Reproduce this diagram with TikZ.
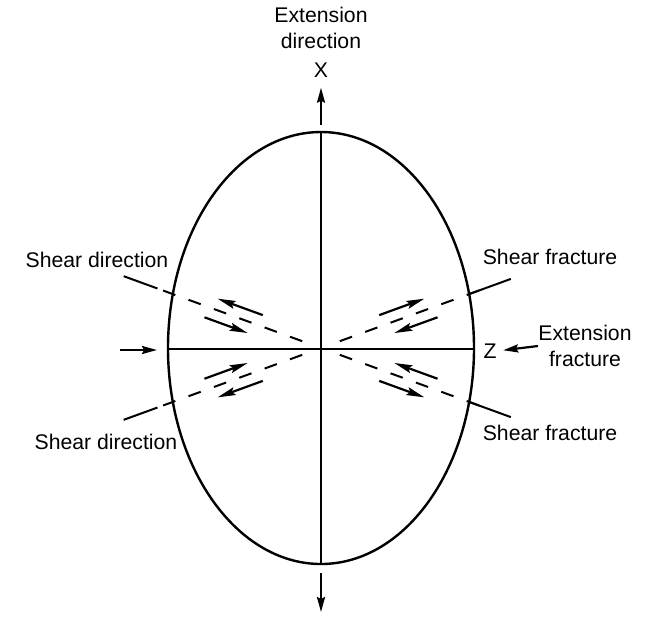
\documentclass[tikz,border=0pt]{standalone}
\usepackage{fontspec}
\setmainfont{Liberation Sans}
\usetikzlibrary{calc,arrows.meta}

\begin{document}
\begin{tikzpicture}[
    x=0.5pt,y=-0.5pt,
    outline/.style={draw,line width=1.2pt},
    axis/.style={draw,line width=1.1pt},
    fault/.style={draw,line width=1pt,dash pattern=on 6.5pt off 7pt},
    ray/.style={draw,line width=1pt},
    flow/.style={-{Stealth[length=7.5pt,width=4pt,inset=1pt]},line width=1.1pt},
    slip/.style={-{Stealth[length=9pt,width=4pt,inset=1.5pt]},line width=1.1pt},
    lbl/.style={font=\fontsize{10.6}{12.8}\selectfont,align=center,inner sep=0pt}
]
    \useasboundingbox (0,0) rectangle (648,618);
    \coordinate (O) at (321,348);
    \coordinate (top) at (321,132);
    \coordinate (bot) at (321,564);
    \coordinate (lft) at (168,349);
    \coordinate (rgt) at (474,349);

    % strain ellipse and principal axes
    \draw[outline] (O) ellipse [x radius=153, y radius=216];
    \draw[axis] (top) -- (bot);
    \draw[axis] (lft) -- (rgt);

    % labels
    \node[lbl] (extdir) at (321,28) {Extension\\direction};
    \node[lbl] (xlab) at (321,70) {X};
    \node[lbl] (zlab) at (490,351) {Z};
    \node[lbl] (extfrac) at (585,346) {Extension\\fracture};
    \node[lbl] (sdU) at (97,260) {Shear direction};
    \node[lbl] (sdL) at (106,442) {Shear direction};
    \node[lbl] (sfU) at (550,257) {Shear fracture};
    \node[lbl] (sfL) at (550,433) {Shear fracture};

    % extension and compression arrows
    \coordinate (xfoot) at (321,125);
    \coordinate (dnA) at (321,573);
    \coordinate (dnB) at (321,612);
    \coordinate (inA) at (120,350);
    \coordinate (inB) at (157,350);
    \draw[flow,shorten >=5pt] (xfoot) -- (xlab.south);
    \draw[flow] (dnA) -- (dnB);
    \draw[flow] (inA) -- (inB);
    \draw[flow,shorten >=3.2pt] (extfrac.west) -- (zlab.east);

    % conjugate shear planes with sense of slip
    \foreach \a/\f/\n/\s/\e in {200/290/110/174/210, 160/70/250/174/210,
                                340/250/70/158/202, 20/110/290/158/202}{
        \draw[fault] ($(O)+(\a:168)$) -- ($(O)+(\a:20)$);
        \draw[ray] ($(O)+(\a:\s)$) -- ($(O)+(\a:\e)$);
        \draw[slip] ($(O)+(\a:66)+(\f:11)$) -- ($(O)+(\a:114)+(\f:11)$);
        \draw[slip] ($(O)+(\a:120)+(\n:11)$) -- ($(O)+(\a:74)+(\n:11)$);
    }
\end{tikzpicture}
\end{document}
